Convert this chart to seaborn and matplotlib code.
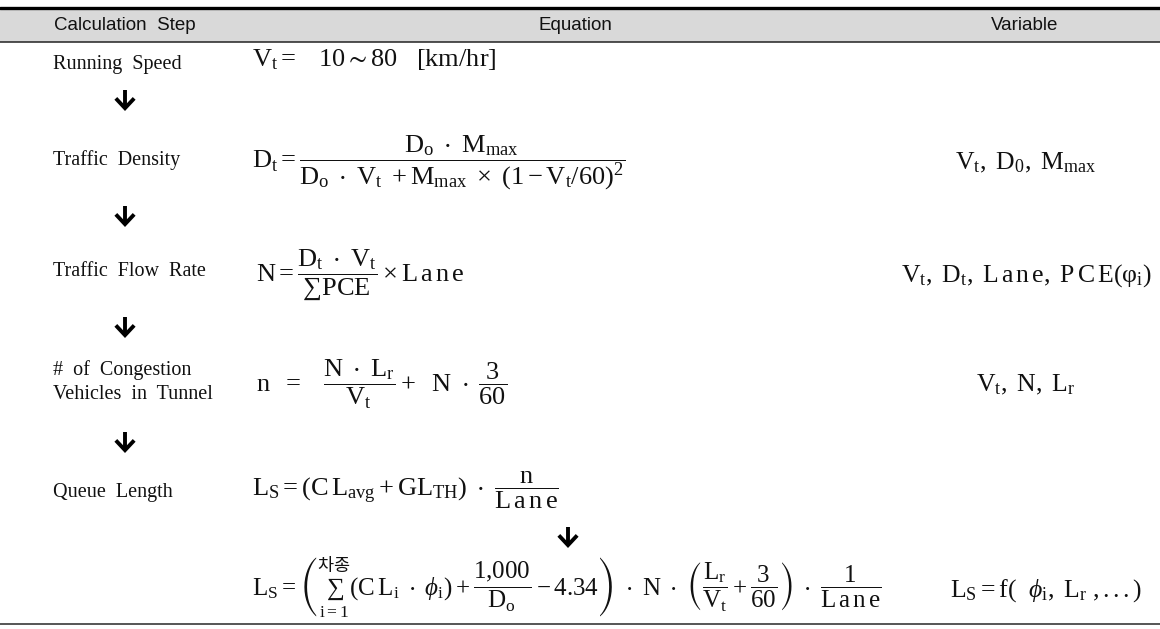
import matplotlib
matplotlib.use("Agg")
import matplotlib.pyplot as plt
import seaborn as sns

sns.set_style("white")
plt.rcParams['font.family'] = ['Liberation Serif', 'Noto Sans CJK KR', 'DejaVu Sans']
plt.rcParams['mathtext.fontset'] = 'custom'
plt.rcParams['mathtext.rm'] = 'Liberation Serif'
plt.rcParams['mathtext.it'] = 'Liberation Serif:italic'
plt.rcParams['mathtext.bf'] = 'Liberation Serif:bold'
plt.rcParams['mathtext.sf'] = 'Noto Sans CJK KR'
plt.rcParams['mathtext.fallback'] = 'stix'
plt.rcParams['mathtext.default'] = 'rm'

# ---- table content ----
headers = ["Calculation  Step", "Equation", "Variable"]
steps = ["Running  Speed", "Traffic  Density", "Traffic  Flow  Rate",
         "#  of  Congestion\nVehicles  in  Tunnel", "Queue  Length"]
equations = [
    r"$V_t =\ \ \ 10 \sim 80\ \ \ [km/hr]$",
    r"$D_t = \dfrac{D_o\ \cdot\ M_{max}}{D_o\ \cdot\ V_t\ +M_{max}\ \times\ (1-V_t/60)^2}$",
    r"$N = \dfrac{D_t\ \cdot\ V_t}{\sum PCE} \times L\,a\,n\,e$",
    r"$n\ \ =\ \ \ \dfrac{N\ \cdot\ L_r}{V_t} +\ \ N\ \cdot\ \dfrac{3}{60}$",
    r"$L_S = (C\,L_{avg} + GL_{TH})\ \cdot\ \dfrac{n}{L\,a\,n\,e}$",
]
final_equation = (r"$L_S = \left(\sum_{i=1}^{\mathsf{차종}} (C\,L_i\ \cdot\ \mathit{\phi}_i) + "
                  r"\dfrac{1{,}000}{D_o} - 4.34\right)\ \cdot\ N\ \cdot\ "
                  r"\left(\dfrac{L_r}{V_t} + \dfrac{3}{60}\right)\ \cdot\ \dfrac{1}{L\,a\,n\,e}$")
variables = ["", r"$V_t,\ D_0,\ M_{max}$",
             r"$V_t,\ D_t,\ L\,a\,n\,e,\ P\,C\,E(\varphi_i)$",
             r"$V_t,\ N,\ L_r$", ""]
final_variable = r"$L_S = f(\ \ \mathit{\phi}_i,\ L_r\ ,...)$"

# ---- layout (pixel space) ----
W, H = 1160, 629
label_y = [64, 160, 272, 382, 492]
eq_y = [60, 162, 275, 384, 490]
var_y = [0, 163, 276, 385, 0]
eq_x = [252, 252, 256, 256, 252]
arrow_pos = [(125, 101), (125, 217), (125, 328), (125, 443), (568, 538)]
final_y = 588
label_x = 53
step_center = 125

fig = plt.figure(figsize=(W / 100, H / 100), dpi=100)
ax = fig.add_axes([0, 0, 1, 1])
ax.set_xlim(0, W)
ax.set_ylim(H, 0)
ax.axis('off')

# header band and rules
ax.axhspan(8, 42, color='#d9d9d9', lw=0)
ax.axhline(8, color='black', lw=2.4)
ax.axhline(42, color='#222222', lw=1.1)
ax.axhline(624, color='#555555', lw=1.4)

hdr_x = [step_center, 575, 1025]
for x, h in zip(hdr_x, headers):
    ax.text(x, 25, h, ha='center', va='center', fontsize=13.5,
            family=['Liberation Sans', 'DejaVu Sans'], color='#111111')

for y, s in zip(label_y, steps):
    ax.text(label_x, y, s, ha='left', va='center', fontsize=14.5,
            linespacing=1.4, color='#111111')

for x, y, e in zip(eq_x, eq_y, equations):
    ax.text(x, y, e, ha='left', va='center', fontsize=19, color='#111111')

for y, v in zip(var_y, variables):
    if v:
        ax.text(1026, y, v, ha='center', va='center', fontsize=18.5,
                color='#111111')

# flow arrows (open chevron head, heavy stroke)
for x, y in arrow_pos:
    ax.annotate("", xy=(x, y + 10), xytext=(x, y - 11),
                arrowprops=dict(arrowstyle="->, head_length=0.32, head_width=0.3",
                                lw=2.8, color='black', shrinkA=0, shrinkB=0,
                                mutation_scale=22, capstyle='butt',
                                joinstyle='miter'))

ax.text(252, final_y, final_equation, ha='left', va='center',
        fontsize=18, color='#111111')
ax.text(1142, final_y + 3, final_variable, ha='right', va='center',
        fontsize=18.5, color='#111111')

fig.savefig("out.png", dpi=100)
